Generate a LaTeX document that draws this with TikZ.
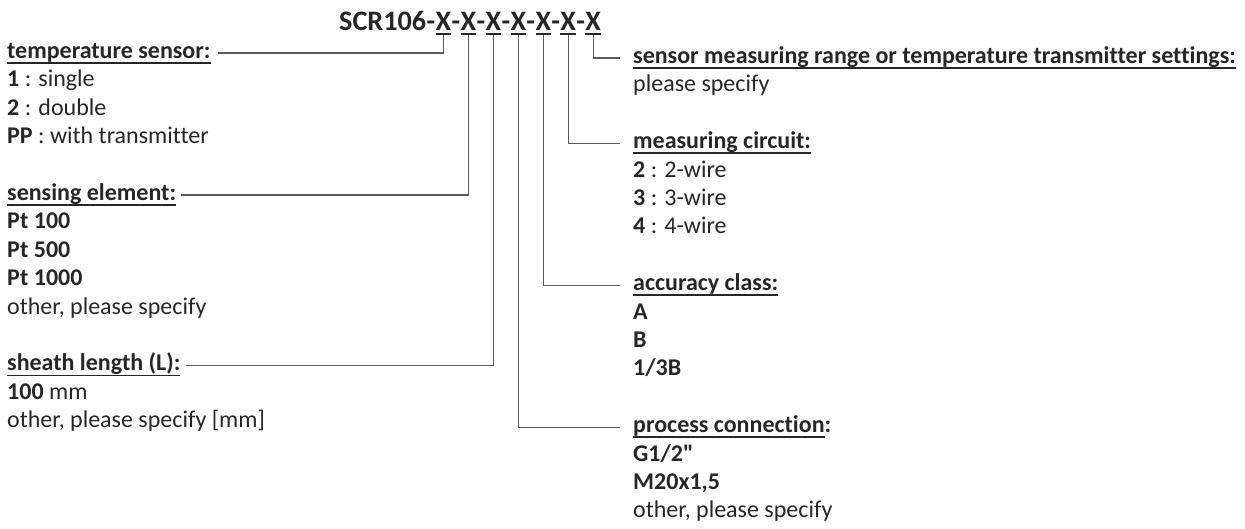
\documentclass[tikz,border=0pt]{standalone}
\usepackage{fontspec}
\setmainfont{Carlito}[Ligatures={TeXOff,CommonOff}]
\definecolor{ink}{HTML}{262626}
\definecolor{wire}{HTML}{5A5A5A}
% underline that runs through the descenders
\newcommand{\hd}[1]{\setbox0\hbox{#1}\rlap{\rule[-5.5pt]{\wd0}{1.8pt}}\box0}
\newcommand{\xu}[1]{\setbox0\hbox{#1}\rlap{\rule[-5pt]{\wd0}{1.9pt}}\box0}

\begin{document}
\begin{tikzpicture}[x=1pt,y=-1pt]
    \tikzset{every node/.style={inner sep=0pt, text=ink},
      code/.style={font=\fontsize{28.2}{34}\selectfont\bfseries, anchor=base west},
      head/.style={font=\fontsize{24}{29}\selectfont\bfseries, anchor=base west, text height=16pt, text depth=5pt},
      item/.style={font=\fontsize{24}{29}\selectfont, anchor=base west},
      link/.style={draw=wire, line width=1.2pt}}
    \useasboundingbox (0,0) rectangle (1245,528);
    % order code
    \node [code] (x0) at (339,30) {SCR106};
    \foreach \i [count=\j from 0] in {1,...,7} {
      \node [code] (d\i) at (x\j.base east) {-};
      \node [code] (x\i) at (d\i.base east) {\xu{X}};
    }
    % left column
    \node [head] (ts) at (7,58.5) {\hd{temperature sensor:}};
    \foreach \t [count=\i] in {{\textbf{1} : single},{\textbf{2} : double},{\textbf{PP} : with transmitter}}
      \node [item] (ts\i) at (7,58.5+28.4*\i) {\t};
    \node [head] (se) at (7,200.5) {\hd{sensing element:}};
    \foreach \t [count=\i] in {\textbf{Pt 100},\textbf{Pt 500},\textbf{Pt 1000},{other, please specify}}
      \node [item] (se\i) at (7,200.5+28.4*\i) {\t};
    \node [head] (sl) at (7,370.9) {\hd{sheath length (L):}};
    \foreach \t [count=\i] in {{\textbf{100} mm},{other, please specify [mm]}}
      \node [item] (sl\i) at (7,370.9+28.4*\i) {\t};
    % right column
    \node [head] (rng) at (633,63.5) {\hd{sensor measuring range or temperature transmitter settings:}};
    \node [item] (rng1) at (633,91.9) {please specify};
    \node [head] (mc) at (633,148.7) {\hd{measuring circuit:}};
    \foreach \t [count=\i] in {{\textbf{2} : 2-wire},{\textbf{3} : 3-wire},{\textbf{4} : 4-wire}}
      \node [item] (mc\i) at (633,148.7+28.4*\i) {\t};
    \node [head] (ac) at (633,290.7) {\hd{accuracy class:}};
    \foreach \t [count=\i] in {\textbf{A},\textbf{B},\textbf{1/3B}}
      \node [item] (ac\i) at (633,290.7+28.4*\i) {\t};
    \node [head] (pc) at (633,432.7) {\hd{process connection}:};
    \foreach \t [count=\i] in {\textbf{G1/2"},{\textbf{M20x1,5}},{other, please specify}}
      \node [item] (pc\i) at (633,432.7+28.4*\i) {\t};
    % connectors
    \foreach \x/\h/\s in {1/ts/7,2/se/5,3/sl/5}
      \draw [link,shorten >=\s pt] (x\x.south) |- (\h.east);
    \foreach \x/\h in {4/pc,5/ac,6/mc,7/rng}
      \draw [link,shorten >=13pt] (x\x.south) |- (\h.west);
\end{tikzpicture}
\end{document}
